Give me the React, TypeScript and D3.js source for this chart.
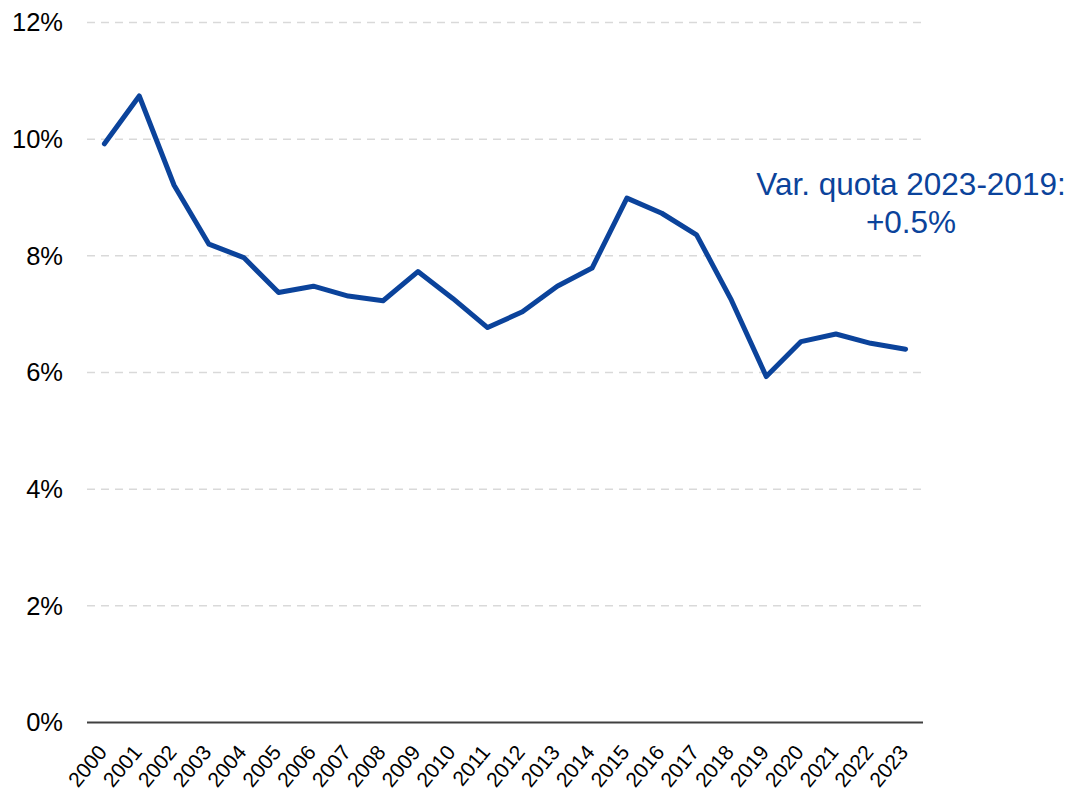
import * as d3 from 'd3';
import { useEffect, useRef } from 'react';

const years = [
    '2000', '2001', '2002', '2003', '2004', '2005', '2006', '2007', '2008', '2009', '2010', '2011',
    '2012', '2013', '2014', '2015', '2016', '2017', '2018', '2019', '2020', '2021', '2022', '2023',
];
const shares = [
    9.92, 10.74, 9.21, 8.2, 7.97, 7.37, 7.48, 7.31, 7.23, 7.73, 7.27, 6.77,
    7.04, 7.48, 7.79, 8.99, 8.73, 8.36, 7.24, 5.93, 6.53, 6.66, 6.5, 6.4,
];
const yTicks = [0, 2, 4, 6, 8, 10, 12];
const noteLines = ['Var. quota 2023-2019:', '+0.5%'];

const WIDTH = 1073;
const HEIGHT = 793;
const LINE_COLOR = '#0b439b';
const FONT = 'Liberation Sans, Arial, sans-serif';

export default function App() {
    const svgRef = useRef<SVGSVGElement | null>(null);

    useEffect(() => {
        if (!svgRef.current) return;
        const svg = d3.select(svgRef.current);
        svg.selectAll('*').remove();

        const left = 87;
        const right = 923;
        const top = 22.5;
        const bottom = 722.5;

        const x = d3.scalePoint<string>().domain(years).range([left, right]).padding(0.5);
        const y = d3.scaleLinear().domain([0, 12]).range([bottom, top]);

        // Gridlines (dashed)
        svg.append('g')
            .selectAll('line')
            .data(yTicks.filter((t) => t > 0))
            .join('line')
            .attr('x1', left)
            .attr('x2', right)
            .attr('y1', (d) => y(d))
            .attr('y2', (d) => y(d))
            .attr('stroke', '#d9d9d9')
            .attr('stroke-width', 1.5)
            .attr('stroke-dasharray', '8,6');

        // Y tick labels
        svg.append('g')
            .selectAll('text')
            .data(yTicks)
            .join('text')
            .attr('x', 63)
            .attr('y', (d) => y(d))
            .attr('dy', '0.35em')
            .attr('text-anchor', 'end')
            .attr('font-family', FONT)
            .attr('font-size', 25.5)
            .attr('fill', '#000')
            .text((d) => `${d}%`);

        // X axis baseline
        svg.append('line')
            .attr('x1', left)
            .attr('x2', right)
            .attr('y1', bottom)
            .attr('y2', bottom)
            .attr('stroke', '#404040')
            .attr('stroke-width', 2);

        // Year labels, rotated
        svg.append('g')
            .selectAll('text')
            .data(years)
            .join('text')
            .attr('transform', (d) => `translate(${x(d)! - 2},${bottom + 25.5}) rotate(-50)`)
            .attr('text-anchor', 'end')
            .attr('dy', '0.35em')
            .attr('font-family', FONT)
            .attr('font-size', 21)
            .attr('fill', '#000')
            .text((d) => d);

        const line = d3
            .line<number>()
            .x((_, i) => x(years[i])!)
            .y((d) => y(d));

        svg.append('path')
            .datum(shares)
            .attr('d', line)
            .attr('fill', 'none')
            .attr('stroke', LINE_COLOR)
            .attr('stroke-width', 5)
            .attr('stroke-linejoin', 'round')
            .attr('stroke-linecap', 'round');

        // Annotation
        svg.append('g')
            .selectAll('text')
            .data(noteLines)
            .join('text')
            .attr('x', 911)
            .attr('y', (_, i) => 195 + i * 38)
            .attr('text-anchor', 'middle')
            .attr('font-family', FONT)
            .attr('font-size', 31.5)
            .attr('fill', LINE_COLOR)
            .text((d) => d);
    }, []);

    return (
        <svg
            ref={svgRef}
            width={WIDTH}
            height={HEIGHT}
            style={{ display: 'block', position: 'absolute', left: 0, top: 0, background: '#fff' }}
        />
    );
}
